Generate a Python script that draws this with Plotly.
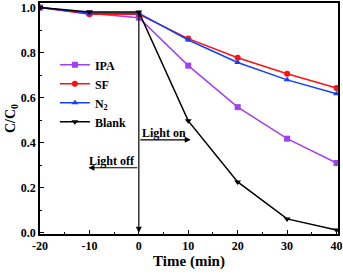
import plotly.graph_objects as go

time = [-20, -10, 0, 10, 20, 30, 40]
ipa = [1.0, 0.975, 0.955, 0.742, 0.558, 0.418, 0.31]
sf = [1.0, 0.97, 0.97, 0.862, 0.777, 0.706, 0.643]
n2 = [1.0, 0.975, 0.975, 0.856, 0.756, 0.679, 0.617]
blank = [1.0, 0.98, 0.98, 0.497, 0.226, 0.062, 0.013]

series = [
    ("IPA", ipa, "#A040F0", "square"),
    ("SF", sf, "#FF1010", "circle"),
    ("N<sub>2</sub>", n2, "#1040FF", "triangle-up"),
    ("Blank", blank, "#000000", "triangle-down"),
]

font = "Liberation Serif"
fig = go.Figure()
for name, vals, col, sym in series:
    fig.add_trace(go.Scatter(
        x=time, y=vals, name="<b>" + name + "</b>", mode="lines+markers",
        line=dict(color=col, width=1.5),
        marker=dict(color=col, symbol=sym, size=6),
    ))

# vertical light-on line with arrow pointing down
fig.add_annotation(x=0, y=0.0, ax=0, ay=0.985, xref="x", yref="y", axref="x", ayref="y",
                   showarrow=True, arrowhead=2, arrowsize=1, arrowwidth=1.2, arrowcolor="black", text="")
fig.add_annotation(x=10.5, y=0.413, ax=0, ay=0.413, xref="x", yref="y", axref="x", ayref="y",
                   showarrow=True, arrowhead=2, arrowsize=1, arrowwidth=1.2, arrowcolor="black", text="")
fig.add_annotation(x=-10.2, y=0.289, ax=0, ay=0.289, xref="x", yref="y", axref="x", ayref="y",
                   showarrow=True, arrowhead=2, arrowsize=1, arrowwidth=1.2, arrowcolor="black", text="")
fig.add_annotation(x=0.3, y=0.413, xref="x", yref="y", text="<b>Light on</b>", showarrow=False,
                   xanchor="left", yanchor="bottom", yshift=-2, font=dict(family=font, size=12, color="black"))
fig.add_annotation(x=-0.3, y=0.289, xref="x", yref="y", text="<b>Light off</b>", showarrow=False,
                   xanchor="right", yanchor="bottom", yshift=-2, font=dict(family=font, size=12, color="black"))

axis_common = dict(
    showline=True, linecolor="black", linewidth=1.5, mirror=True,
    ticks="inside", ticklen=4, tickwidth=1.2, tickcolor="black",
    showgrid=False, zeroline=False, automargin=False,
    tickfont=dict(family=font, size=12, color="black"),
)
fig.update_xaxes(range=[-20, 40.3], tickvals=[-20, -10, 0, 10, 20, 30, 40],
                 ticktext=["<b>-20</b>", "<b>-10</b>", "<b>0</b>", "<b>10</b>", "<b>20</b>", "<b>30</b>", "<b>40</b>"],
                 minor=dict(dtick=5, ticks="inside", ticklen=2.5, tickcolor="black", tickwidth=1),
                 title=dict(text="<b>Time (min)</b>", font=dict(family=font, size=15, color="black"), standoff=3),
                 **axis_common)
fig.update_yaxes(range=[-0.005, 1.02], tickvals=[0, 0.2, 0.4, 0.6, 0.8, 1.0],
                 ticktext=["<b>0.0</b>", "<b>0.2</b>", "<b>0.4</b>", "<b>0.6</b>", "<b>0.8</b>", "<b>1.0</b>"],
                 minor=dict(dtick=0.1, ticks="inside", ticklen=2.5, tickcolor="black", tickwidth=1),
                 title=dict(text="<b>C/C<sub>0</sub></b>", font=dict(family=font, size=14, color="black"), standoff=2),
                 **axis_common)

fig.update_layout(
    width=343, height=274,
    margin=dict(l=40, r=5, t=3, b=40),
    plot_bgcolor="white", paper_bgcolor="white",
    showlegend=True,
    legend=dict(x=0.05, y=0.795, xanchor="left", yanchor="top", bgcolor="rgba(0,0,0,0)",
                font=dict(family=font, size=12, color="black"), tracegroupgap=0,
                itemwidth=30),
)

fig.write_html("out.html", config={"displayModeBar": False},
               post_script="document.body.style.margin='0';document.body.style.overflow='hidden';")
